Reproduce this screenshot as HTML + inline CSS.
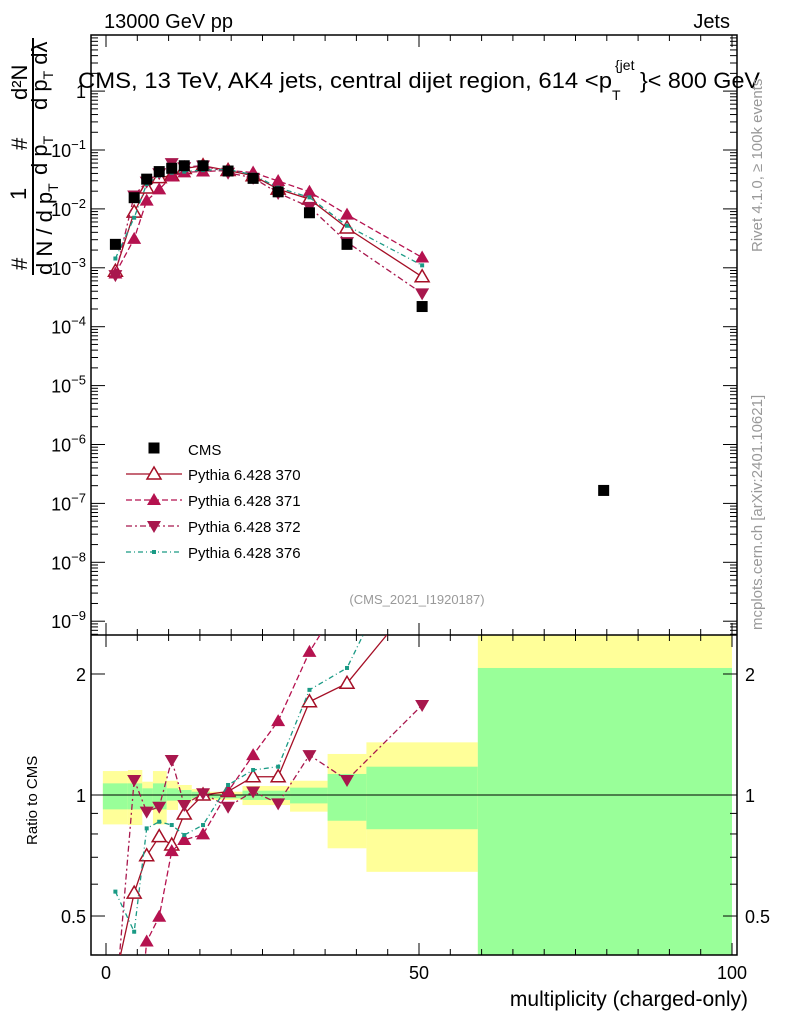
<!DOCTYPE html>
<html><head><meta charset="utf-8"><style>
html,body{margin:0;padding:0;background:#fff;overflow:hidden;width:786px;height:1024px;}
svg{display:block;font-family:"Liberation Sans",sans-serif;}
</style></head><body>
<svg id="c" width="786" height="1024" xmlns="http://www.w3.org/2000/svg">
<defs>
<clipPath id="cm"><rect x="91" y="35" width="646" height="600"/></clipPath>
<clipPath id="cr"><rect x="91" y="635" width="646" height="320"/></clipPath>
</defs>
<g id="bands" clip-path="url(#cr)"></g>
<g id="grid"></g>
<g id="mainMarks" clip-path="url(#cm)"></g>
<g id="ratioMarks" clip-path="url(#cr)"></g>
<text x="104" y="28" font-size="20">13000 GeV pp</text>
<text x="730" y="28" font-size="20" text-anchor="end">Jets</text>
<g font-size="22">
<text x="78" y="88" textLength="534" lengthAdjust="spacingAndGlyphs">CMS, 13 TeV, AK4 jets, central dijet region, 614 &lt;p</text>
<text x="612" y="100" font-size="14">T</text>
<text x="615" y="70" font-size="14">{jet</text>
<text x="640" y="88" textLength="120" lengthAdjust="spacingAndGlyphs">}&lt; 800 GeV</text>
</g>
<text transform="translate(762,252) rotate(-90)" font-size="15" fill="#999">Rivet 4.1.0, ≥ 100k events</text>
<text transform="translate(762,630) rotate(-90)" font-size="15" fill="#999">mcplots.cern.ch [arXiv:2401.10621]</text>
<text x="417" y="604" font-size="13" fill="#999" text-anchor="middle">(CMS_2021_I1920187)</text>
<g font-size="22">
<text transform="translate(27,270) rotate(-90)">#</text>
<text transform="translate(26,200) rotate(-90)">1</text>
<line x1="33" y1="275" x2="33" y2="38" stroke="#000" stroke-width="2"/>
<text transform="translate(52,275) rotate(-90)">d N / d p<tspan font-size="14" dy="6">T</tspan></text>
<text transform="translate(27,150) rotate(-90)">#</text>
<text transform="translate(47,175) rotate(-90)">d p<tspan font-size="14" dy="6">T</tspan></text>
<text transform="translate(27,100) rotate(-90)">d²N</text>
<text transform="translate(47,110) rotate(-90)">d p<tspan font-size="14" dy="6">T</tspan><tspan dy="-6"> dλ</tspan></text>
</g>
<text transform="translate(37,845) rotate(-90)" font-size="15">Ratio to CMS</text>
<text x="748" y="1006" font-size="21" text-anchor="end">multiplicity (charged-only)</text>
<g id="legend"></g>
</svg>
<script>
const xVals=[1.5,4.5,6.5,8.5,10.5,12.5,15.5,19.5,23.5,27.5,32.5,38.5,50.5,79.5];
const cmsVals=[2.5e-3,0.0155,0.032,0.043,0.049,0.054,0.054,0.044,0.033,0.0195,0.0086,0.0025,2.2e-4,1.66e-7];
const r370=[0.35,0.57,0.706,0.788,0.751,0.897,1.0,1.02,1.11,1.11,1.706,1.896,3.2];
const r371=[0.32,0.2,0.432,0.498,0.725,0.773,0.798,1.02,1.257,1.527,2.27,3.2,6.8];
const r372=[0.3,1.09,0.909,0.935,1.222,0.944,1.01,0.935,1.02,0.953,1.257,1.09,1.674];
const r376=[0.575,0.457,0.826,0.858,0.842,0.795,0.842,1.059,1.154,1.176,1.826,2.07,5.0];
const bandEdges=[-0.5,3.5,5.8,7.5,9.7,11.5,13.7,16.6,21.8,29.4,35.4,41.6,59.4,100];
const yelHi=[1.147,1.154,1.079,1.147,1.085,1.059,1.035,1.019,1.053,1.085,1.265,1.352,3.0];
const yelLo=[0.845,0.842,0.918,0.845,0.918,0.957,0.972,0.972,0.944,0.909,0.737,0.644,0.2];
const grnHi=[1.069,1.069,1.039,1.069,1.039,1.029,1.019,1.004,1.025,1.043,1.128,1.176,2.07];
const grnLo=[0.921,0.921,0.935,0.921,0.968,0.972,0.981,0.981,0.972,0.953,0.863,0.822,0.3];
const xTicks=[0,50,100];
const mainDecades=[-9,-8,-7,-6,-5,-4,-3,-2,-1,0];
const ratioTicks=[0.5,1,2];

const NS="http://www.w3.org/2000/svg";
const X0=91,X1=737,YT=35,YM=635,YB=955;
const xs=v=>106+6.26*v;
const ym=v=>91.1-58.9*Math.log10(v);
const yr=v=>795-402*Math.log10(v);
function mk(t,a,p){const e=document.createElementNS(NS,t);for(const k in a)e.setAttribute(k,a[k]);p.appendChild(e);return e;}

const bands=document.getElementById('bands');
for(let i=0;i<yelHi.length;i++){
 const a=xs(bandEdges[i]),b=xs(bandEdges[i+1]);
 const y=mk('rect',{x:a,y:yr(yelHi[i]),width:b-a,height:yr(yelLo[i])-yr(yelHi[i]),fill:'#ffff99'},bands);
 
 
 const g=mk('rect',{x:a,y:yr(grnHi[i]),width:b-a,height:yr(grnLo[i])-yr(grnHi[i]),fill:'#99ff99'},bands);
 
 
}

const grid=document.getElementById('grid');
mk('rect',{x:X0,y:YT,width:X1-X0,height:YB-YT,fill:'none',stroke:'#000','stroke-width':1.5},grid);
mk('line',{x1:X0,y1:YM,x2:X1,y2:YM,stroke:'#000','stroke-width':1.5},grid);
mk('line',{x1:X0,y1:yr(1),x2:X1,y2:yr(1),stroke:'#000','stroke-width':1},grid);
for(let v=0;v<=100;v+=5){
 const x=xs(v),L=(v%50===0)?12:6;
 [YT,YM].forEach(y0=>{mk('line',{x1:x,y1:y0,x2:x,y2:y0+L,stroke:'#000'},grid);});
 [YM,YB].forEach(y0=>{mk('line',{x1:x,y1:y0,x2:x,y2:y0-L,stroke:'#000'},grid);});
}
xTicks.forEach(v=>{const t=mk('text',{x:xs(v),y:979,'font-size':18,'text-anchor':'middle'},grid);t.textContent=v;
 
 });
for(let d=-10;d<=1;d++){
 for(let m=1;m<10;m++){
  const y=ym(m*Math.pow(10,d)); if(y<YT||y>YM)continue;
  const L=m===1?14:7;
  mk('line',{x1:X0,y1:y,x2:X0+L,y2:y,stroke:'#000'},grid);
  mk('line',{x1:X1,y1:y,x2:X1-L,y2:y,stroke:'#000'},grid);
 }
}
mainDecades.forEach(d=>{
 const y=ym(Math.pow(10,d));
 const t=mk('text',{x:86,y:y+7,'font-size':18,'text-anchor':'end'},grid);
 
 
 if(d===0){t.textContent='1';}else{t.textContent='10';const s=mk('tspan',{dy:-8,'font-size':13},t);s.textContent=(d<0?'−':'')+Math.abs(d);}
});
for(let d=-1;d<=0;d++)for(let m=1;m<10;m++){
 const v=m*Math.pow(10,d);const y=yr(v);if(y<YM||y>YB)continue;
 const L=(v===0.5||v===1||v===2)?14:7;
 mk('line',{x1:X0,y1:y,x2:X0+L,y2:y,stroke:'#000'},grid);
 mk('line',{x1:X1,y1:y,x2:X1-L,y2:y,stroke:'#000'},grid);
}
ratioTicks.forEach(v=>{const y=yr(v);
 const t=mk('text',{x:86,y:y+7,'font-size':18,'text-anchor':'end'},grid);t.textContent=v;
 
 
 const t2=mk('text',{x:745,y:y+7,'font-size':18},grid);t2.textContent=v;
 
 });

function marker(type,x,y,col,p){
 let e;
 if(type==='sq')e=mk('rect',{x:x-5.5,y:y-5.5,width:11,height:11,fill:'#000'},p);
 else if(type==='open')e=mk('polygon',{points:`${x},${y-7} ${x-7},${y+5} ${x+7},${y+5}`,fill:'#fff',stroke:col,'stroke-width':1.5},p);
 else if(type==='up')e=mk('polygon',{points:`${x},${y-7} ${x-7},${y+5} ${x+7},${y+5}`,fill:col},p);
 else if(type==='down')e=mk('polygon',{points:`${x},${y+7} ${x-7},${y-5} ${x+7},${y-5}`,fill:col},p);
 else e=mk('rect',{x:x-2,y:y-2,width:4,height:4,fill:col},p);
 return e;
}
const series=[
 {name:'pythia-370',r:r370,col:'#a50f26',dash:'',m:'open',label:'Pythia 6.428 370'},
 {name:'pythia-371',r:r371,col:'#b5124f',dash:'6,3',m:'up',label:'Pythia 6.428 371'},
 {name:'pythia-372',r:r372,col:'#a8174d',dash:'6,3,2,3',m:'down',label:'Pythia 6.428 372'},
 {name:'pythia-376',r:r376,col:'#1a9a85',dash:'5,3,1,3',m:'dot',label:'Pythia 6.428 376'}
];
const mm=document.getElementById('mainMarks'),rm=document.getElementById('ratioMarks');
series.forEach(s=>{
 const n=s.r.length;
 const pm=[],pr=[];
 for(let i=0;i<n;i++){pm.push(xs(xVals[i])+','+ym(s.r[i]*cmsVals[i]));pr.push(xs(xVals[i])+','+yr(s.r[i]));}
 const l1=mk('polyline',{points:pm.join(' '),fill:'none',stroke:s.col,'stroke-width':1.3,'stroke-dasharray':s.dash},mm);
 
 
 const l2=mk('polyline',{points:pr.join(' '),fill:'none',stroke:s.col,'stroke-width':1.3,'stroke-dasharray':s.dash},rm);
 
 
 for(let i=0;i<n;i++){
  const a=marker(s.m,xs(xVals[i]),ym(s.r[i]*cmsVals[i]),s.col,mm);
  
  
  const b=marker(s.m,xs(xVals[i]),yr(s.r[i]),s.col,rm);
  
  
 }
});
for(let i=0;i<xVals.length;i++){
 const a=marker('sq',xs(xVals[i]),ym(cmsVals[i]),'#000',mm);
 
 
}
const lg=document.getElementById('legend');
marker('sq',154,448,'#000',lg);
let t=mk('text',{x:188,y:455,'font-size':15},lg);t.textContent='CMS';


series.forEach((s,k)=>{
 const y=474+26*k;
 mk('line',{x1:126,y1:y,x2:182,y2:y,stroke:s.col,'stroke-width':1.3,'stroke-dasharray':s.dash},lg);
 marker(s.m,154,y,s.col,lg);
 const tt=mk('text',{x:188,y:y+6,'font-size':15},lg);tt.textContent=s.label;
 
 
});
</script>
</body></html>
